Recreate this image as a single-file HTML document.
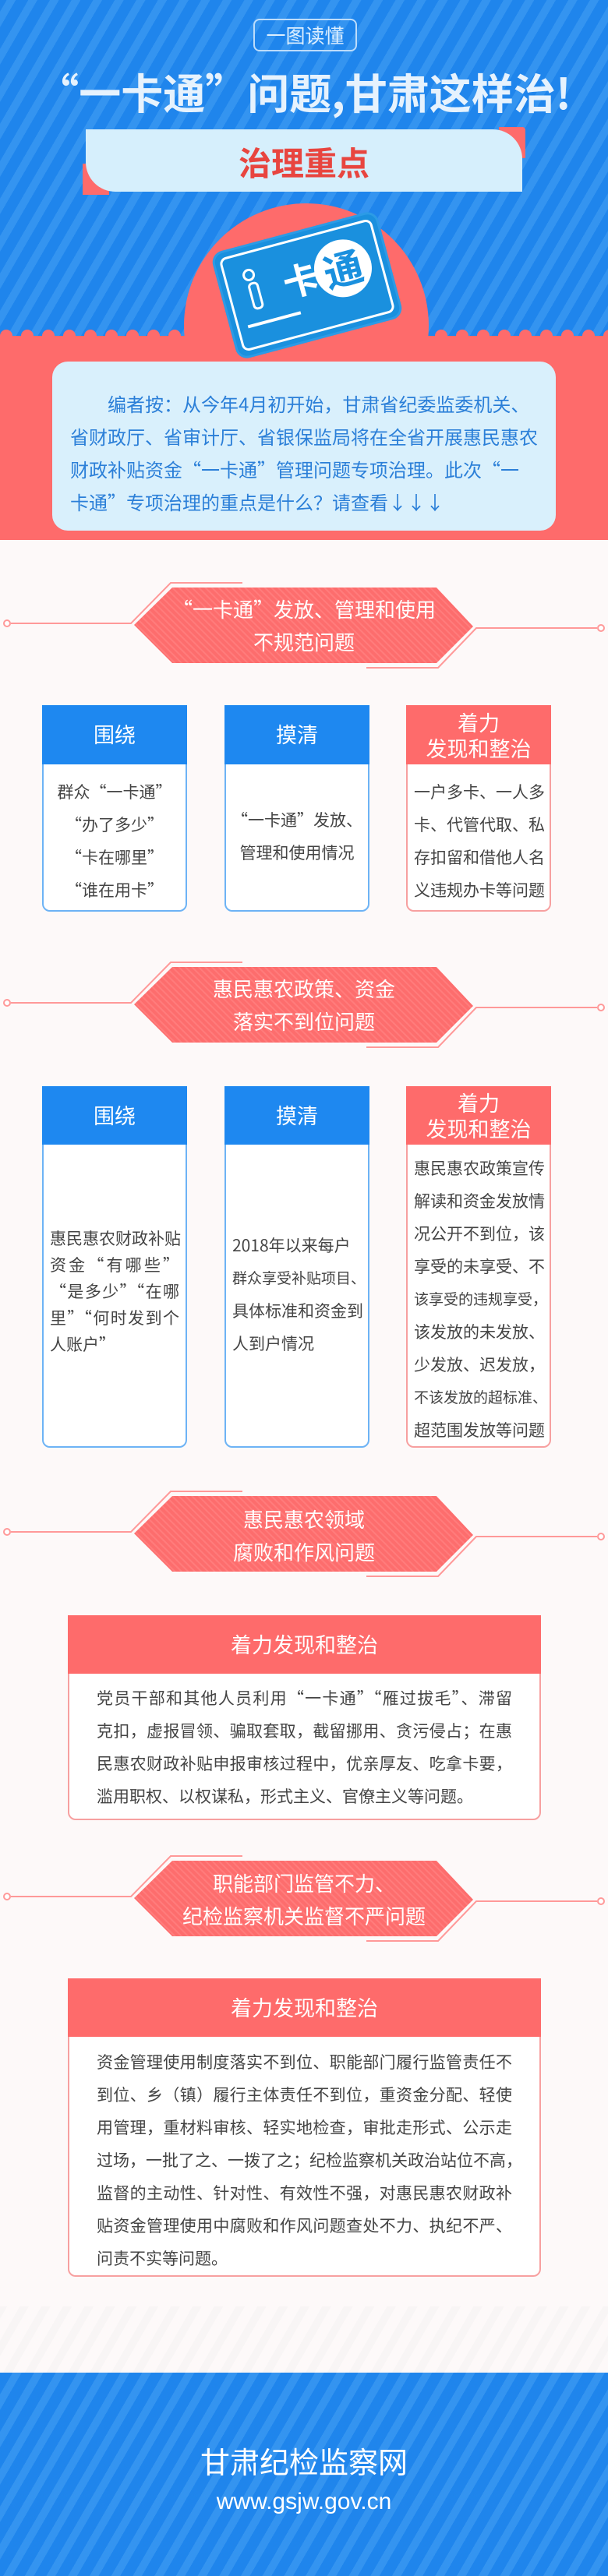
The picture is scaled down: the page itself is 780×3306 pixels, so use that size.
<!DOCTYPE html>
<html><head><meta charset="utf-8"><style>
*{margin:0;padding:0;box-sizing:border-box}
body{width:780px;height:3306px;position:relative;background:#fdf9f9;font-family:"Noto Sans CJK SC","Liberation Sans",sans-serif;overflow:hidden}
.a{position:absolute}
.blue{background:#1f85ec repeating-linear-gradient(-60deg,#1f85ec 0 14px,#3494f0 14px 24px)}
.t{position:absolute;left:0;width:780px;text-align:center}
.box{position:absolute;border:2px solid #6db3f5;border-radius:0 0 10px 10px;background:#fff}
.box.r{border-color:#f7a0a0}
.hd{position:absolute;left:-2px;top:-2px;right:-2px;background:#1e88f0;color:#fff;text-align:center;font-size:27px;overflow:hidden}
.r .hd{background:#fe6b6b}
.hd:after{content:"";position:absolute;right:-4px;top:-6px;width:2px;height:44px;background:#fff;transform:rotate(-40deg);transform-origin:top}
.bd{position:absolute;left:0;right:0;color:#444;font-size:21px}
.bd div{height:42px;line-height:42px;white-space:nowrap;overflow:visible}
.j div{text-align:justify;text-align-last:justify}
.s{font-size:19px}
</style></head><body>
<div class="a blue" style="left:0;top:0;width:780px;height:440px"></div>
<div class="a" style="left:325px;top:24px;width:133px;height:42px;border:2px solid #bcdcfb;border-radius:8px;color:#dbeeff;font-size:25px;text-align:center;line-height:38px">一图读懂</div>
<div class="t" style="top:84px;font-size:54px;font-weight:bold;color:#e6f2fd;line-height:66px">“一卡通”问题,甘肃这样治!</div>
<div class="a" style="left:640px;top:163px;width:34px;height:40px;background:#fe6b6b;border-radius:0 4px 0 0"></div>
<div class="a" style="left:106px;top:210px;width:34px;height:40px;background:#fe6b6b"></div>
<div class="a" style="left:110px;top:166px;width:560px;height:80px;background:#d6effc;border-radius:0 38px 0 38px"></div>
<div class="t" style="top:180px;font-size:42px;font-weight:bold;color:#e8453f;line-height:56px">治理重点</div>
<div class="a" style="left:236px;top:261px;width:314px;height:314px;border-radius:50%;background:#fe6b6b"></div>
<div class="a" style="left:0;top:431px;width:780px;height:262px;background:#fe6b6b"></div>
<svg class="a" style="left:0;top:418px" width="780" height="16">
<g fill="#fe6b6b">
<circle cx="8" cy="13" r="8"/><circle cx="35" cy="13" r="8"/><circle cx="62" cy="13" r="8"/><circle cx="89" cy="13" r="8"/><circle cx="116" cy="13" r="8"/><circle cx="143" cy="13" r="8"/><circle cx="170" cy="13" r="8"/><circle cx="197" cy="13" r="8"/><circle cx="224" cy="13" r="8"/>
<circle cx="566" cy="13" r="8"/><circle cx="593" cy="13" r="8"/><circle cx="620" cy="13" r="8"/><circle cx="647" cy="13" r="8"/><circle cx="674" cy="13" r="8"/><circle cx="701" cy="13" r="8"/><circle cx="728" cy="13" r="8"/><circle cx="755" cy="13" r="8"/><circle cx="782" cy="13" r="8"/>
</g></svg>
<div class="a" style="left:287px;top:298px;width:214px;height:136px;background:#1a90de;border-radius:12px;transform:rotate(-15deg);box-shadow:0 0 0 3px #2c9be6">
 <div class="a" style="left:6px;top:6px;right:6px;bottom:6px;border:3px solid #fff;border-radius:9px"></div>
 <div class="a" style="left:120px;top:22px;width:74px;height:74px;border-radius:50%;background:#fff;color:#1a90de;font-size:50px;font-weight:bold;text-align:center;line-height:72px">通</div>
 <div class="a" style="left:78px;top:28px;color:#fff;font-size:46px;font-weight:bold;line-height:60px">卡</div>
 <div class="a" style="left:30px;top:28px;width:16px;height:16px;border:3px solid #fff;border-radius:50%"></div>
 <div class="a" style="left:33px;top:46px;width:14px;height:36px;border:3px solid #fff;border-radius:6px"></div>
 <div class="a" style="left:20px;top:98px;width:70px;height:4px;background:#fff"></div>
</div>
<div class="a" style="left:67px;top:464px;width:646px;height:217px;background:#d9f0fc;border-radius:20px"></div>
<div class="a" style="left:90px;top:497px;width:604px;color:#2b7fd8;font-size:24px;line-height:42px">
<div style="padding-left:48px;white-space:nowrap">编者按：从今年4月初开始，甘肃省纪委监委机关、</div>
<div style="white-space:nowrap">省财政厅、省审计厅、省银保监局将在全省开展惠民惠农</div>
<div style="white-space:nowrap">财政补贴资金“一卡通”管理问题专项治理。此次“一</div>
<div style="white-space:nowrap">卡通”专项治理的重点是什么？请查看↓↓↓</div>
</div>

<svg class="a" style="left:0;top:0" width="780" height="3306">
<defs><pattern id="h" width="6" height="6" patternUnits="userSpaceOnUse" patternTransform="rotate(-45)"><rect width="6" height="6" fill="#fd6d6d"/><rect width="2" height="6" fill="#ff7c7c"/></pattern></defs>
<g id="hx">
<polygon points="221,754 560,754 607,804 560,851 221,851 172,802" fill="url(#h)"/>
<polyline points="311,748 219,748 168,800 14,800" fill="none" stroke="#f99" stroke-width="2"/>
<polyline points="470,857 562,857 611,806 766,806" fill="none" stroke="#f99" stroke-width="2"/>
<circle cx="9" cy="800" r="4" fill="#fff" stroke="#f99" stroke-width="2"/>
<circle cx="771" cy="806" r="4" fill="#fff" stroke="#f99" stroke-width="2"/>
</g>
<use href="#hx" y="487"/>
<use href="#hx" y="1166"/>
<use href="#hx" y="1634"/>
</svg>
<div class="t" style="top:761px;color:#fff;font-size:26px;line-height:42px">“一卡通”发放、管理和使用<br>不规范问题</div>
<div class="t" style="top:1248px;color:#fff;font-size:26px;line-height:42px">惠民惠农政策、资金<br>落实不到位问题</div>
<div class="t" style="top:1929px;color:#fff;font-size:26px;line-height:42px">惠民惠农领域<br>腐败和作风问题</div>
<div class="t" style="top:2396px;color:#fff;font-size:26px;line-height:42px">职能部门监管不力、<br>纪检监察机关监督不严问题</div>

<div class="box" style="left:54px;top:905px;width:186px;height:265px">
 <div class="hd" style="height:76px;line-height:74px">围绕</div>
 <div class="bd" style="top:88px;text-align:center"><div>群众“一卡通”</div><div>“办了多少”</div><div>“卡在哪里”</div><div>“谁在用卡”</div></div>
</div>
<div class="box" style="left:288px;top:905px;width:186px;height:265px">
 <div class="hd" style="height:76px;line-height:74px">摸清</div>
 <div class="bd" style="top:124px;text-align:center"><div>“一卡通”发放、</div><div>管理和使用情况</div></div>
</div>
<div class="box r" style="left:521px;top:905px;width:186px;height:265px">
 <div class="hd" style="height:76px;line-height:33px;padding-top:5px">着力<br>发现和整治</div>
 <div class="bd j" style="top:88px;left:8px;right:8px"><div>一户多卡、一人多</div><div>卡、代管代取、私</div><div>存扣留和借他人名</div><div>义违规办卡等问题</div></div>
</div>
<div class="box" style="left:54px;top:1394px;width:186px;height:464px">
 <div class="hd" style="height:75px;line-height:73px">围绕</div>
 <div class="bd j" style="top:176px;left:8px;right:8px"><div style="height:34px;line-height:34px">惠民惠农财政补贴</div><div style="height:34px;line-height:34px">资金“有哪些”</div><div style="height:34px;line-height:34px">“是多少”“在哪</div><div style="height:34px;line-height:34px">里”“何时发到个</div><div style="height:34px;line-height:34px;text-align-last:left">人账户”</div></div>
</div>
<div class="box" style="left:288px;top:1394px;width:186px;height:464px">
 <div class="hd" style="height:75px;line-height:73px">摸清</div>
 <div class="bd" style="top:181px;left:8px;right:4px;text-align:left"><div>2018年以来每户</div><div class="s">群众享受补贴项目、</div><div>具体标准和资金到</div><div>人到户情况</div></div>
</div>
<div class="box r" style="left:521px;top:1394px;width:186px;height:464px">
 <div class="hd" style="height:75px;line-height:33px;padding-top:4px">着力<br>发现和整治</div>
 <div class="bd j" style="top:82px;left:8px;right:8px"><div>惠民惠农政策宣传</div><div>解读和资金发放情</div><div>况公开不到位，该</div><div>享受的未享受、不</div><div class="s">该享受的违规享受，</div><div>该发放的未发放、</div><div>少发放、迟发放，</div><div class="s">不该发放的超标准、</div><div>超范围发放等问题</div></div>
</div>
<div class="box r" style="left:87px;top:2073px;width:607px;height:263px">
 <div class="hd" style="height:75px;line-height:73px">着力发现和整治</div>
 <div class="bd j" style="top:83px;left:35px;right:35px"><div>党员干部和其他人员利用“一卡通”“雁过拔毛”、滞留</div><div>克扣，虚报冒领、骗取套取，截留挪用、贪污侵占；在惠</div><div>民惠农财政补贴申报审核过程中，优亲厚友、吃拿卡要，</div><div style="text-align-last:left">滥用职权、以权谋私，形式主义、官僚主义等问题。</div></div>
</div>
<div class="box r" style="left:87px;top:2539px;width:607px;height:383px">
 <div class="hd" style="height:75px;line-height:73px">着力发现和整治</div>
 <div class="bd j" style="top:84px;left:35px;right:35px"><div>资金管理使用制度落实不到位、职能部门履行监管责任不</div><div>到位、乡（镇）履行主体责任不到位，重资金分配、轻使</div><div>用管理，重材料审核、轻实地检查，审批走形式、公示走</div><div>过场，一批了之、一拨了之；纪检监察机关政治站位不高，</div><div>监督的主动性、针对性、有效性不强，对惠民惠农财政补</div><div>贴资金管理使用中腐败和作风问题查处不力、执纪不严、</div><div style="text-align-last:left">问责不实等问题。</div></div>
</div>
<div class="a" style="left:0;top:2960px;width:780px;height:85px;background:repeating-linear-gradient(-60deg,#fdf9f9 0 14px,#f8f5f5 14px 24px)"></div>
<div class="a blue" style="left:0;top:3045px;width:780px;height:261px"></div>
<div class="t" style="top:3132px;color:#fff;font-size:38px;line-height:52px">甘肃纪检监察网</div>
<div class="t" style="top:3192px;color:#fff;font-size:30px;line-height:38px;font-family:'Liberation Sans',sans-serif">www.gsjw.gov.cn</div>
</body></html>
